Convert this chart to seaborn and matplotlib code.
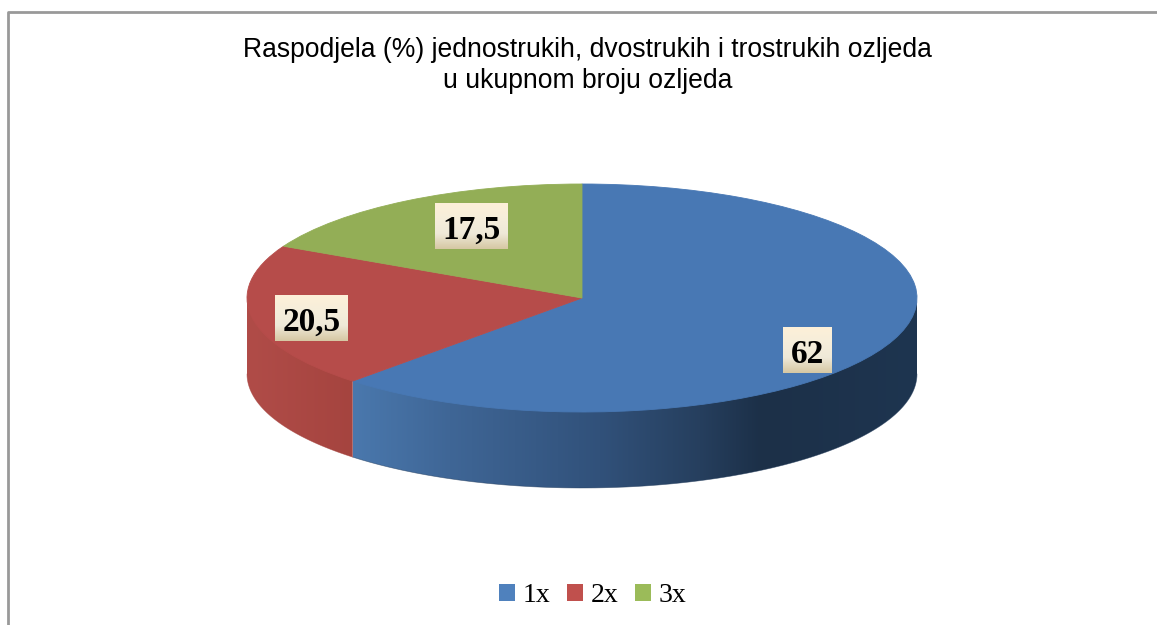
import numpy as np
import seaborn as sns
import matplotlib
matplotlib.use("Agg")
import matplotlib.pyplot as plt
from matplotlib.colors import LinearSegmentedColormap, to_rgb
from matplotlib.patches import Patch, Polygon
from matplotlib.transforms import Affine2D

categories = ["1x", "2x", "3x"]
values = [62, 20.5, 17.5]
value_labels = ["62", "20,5", "17,5"]
title_lines = ["Raspodjela (%) jednostrukih, dvostrukih i trostrukih ozljeda",
               "u ukupnom broju ozljeda"]

top_colors = sns.color_palette(["#4878b4", "#b64c4a", "#93ae56"])
legend_colors = sns.color_palette(["#4f81bd", "#c0504d", "#9bbb59"])

# pie geometry in pixels
cx, cy, rx, ry, depth = 582, 298, 335, 114, 76

# label boxes: left, right, top, bottom
label_boxes = [(783, 832, 327, 373), (275, 348, 295, 341), (435, 508, 203, 249)]

sns.set_theme(style="white")
plt.rcParams["font.family"] = ["Liberation Sans", "DejaVu Sans"]

fig = plt.figure(figsize=(11.57, 6.25), dpi=100, facecolor="white")
ax = fig.add_axes([0, 0, 1, 1])

# top of the pie, squashed into an ellipse
wedges, _ = ax.pie(values, colors=top_colors, startangle=90, counterclock=False)
ellipse = Affine2D().scale(rx, -ry).translate(cx, cy) + ax.transData
for w in wedges:
    w.set_transform(ellipse)
    w.set_edgecolor(w.get_facecolor())
    w.set_linewidth(0.6)
    w.set_zorder(3)
ax.set_aspect("auto")
ax.axis("off")

# side wall, only the front half is visible
wall_stops = {
    0: ([353, 450, 600, 700, 760, 917], ["#4a78ad", "#3f6696", "#31517a", "#263f5e", "#1c3048", "#1e3550"]),
    1: ([248, 353], ["#b04c48", "#a5443f"]),
}
angles = np.cumsum([0] + values) / sum(values) * 360
for i in wall_stops:
    # wedge i runs clockwise from 90 degrees
    a_lo = np.deg2rad(max(90 - angles[i + 1], -180))
    a_hi = np.deg2rad(min(90 - angles[i], 0))
    theta = np.linspace(a_lo, a_hi, 200)
    xx = cx + rx * np.cos(theta)
    yy = cy - ry * np.sin(theta)
    # top of the clip goes a bit under the pie so no seam shows
    outline = np.vstack([np.column_stack([xx, yy - 2]), np.column_stack([xx, yy + depth])[::-1]])

    stop_x, stop_c = wall_stops[i]
    stop_rgb = np.array([to_rgb(c) for c in stop_c])
    px = np.arange(int(xx.min()), int(xx.max()) + 2)
    strip = np.stack([np.interp(px, stop_x, stop_rgb[:, k]) for k in range(3)], axis=-1)[None, :, :]
    img = ax.imshow(strip, extent=(px[0], px[-1] + 1, cy + ry + depth + 2, cy - 4),
                    aspect="auto", interpolation="bilinear", zorder=2)
    img.set_clip_path(Polygon(outline, closed=True, transform=ax.transData))
    # soft edge so the clipped wall isn't jagged
    ax.plot(xx, yy + depth, color=stop_c[len(stop_c) // 2], linewidth=0.5, alpha=0.6, zorder=2)

# labels on gradient boxes
box_cmap = LinearSegmentedColormap.from_list(
    "box", ["#fdf0d8", "#f6eedb", "#efe9d8", "#d6c8a4"])
gradient = np.linspace(0, 1, 64).reshape(-1, 1)
for (x0, x1, y0, y1), text in zip(label_boxes, value_labels):
    ax.imshow(gradient, cmap=box_cmap, extent=(x0, x1, y1, y0), aspect="auto", zorder=4)
    ax.text((x0 + x1) / 2, (y0 + y1) / 2 + 1, text, ha="center", va="center_baseline",
            family="Liberation Serif", weight="bold", fontsize=24, color="black", zorder=5)
ax.set_xlim(0, 1157)
ax.set_ylim(625, 0)

# title
ax.text(587.5, 50, title_lines[0], ha="center", va="center", fontsize=19.1, color="black")
ax.text(587.5, 81, title_lines[1], ha="center", va="center", fontsize=19.1, color="black")

# chart frame, only top and left are in view
ax.plot([7.5, 7.5, 1157], [625, 11.5, 11.5], color="#999999", linewidth=2, zorder=1)

handles = [Patch(facecolor=c, edgecolor="none") for c in legend_colors]
ax.legend(handles, categories, loc="center", bbox_to_anchor=(593 / 1157, 1 - 596 / 625),
          ncol=3, frameon=False, prop={"family": "Liberation Serif", "size": 20},
          labelcolor="black", handlelength=0.55, handleheight=0.55, handletextpad=0.3,
          columnspacing=0.6)

fig.savefig("out.png", dpi=100, facecolor="white")
